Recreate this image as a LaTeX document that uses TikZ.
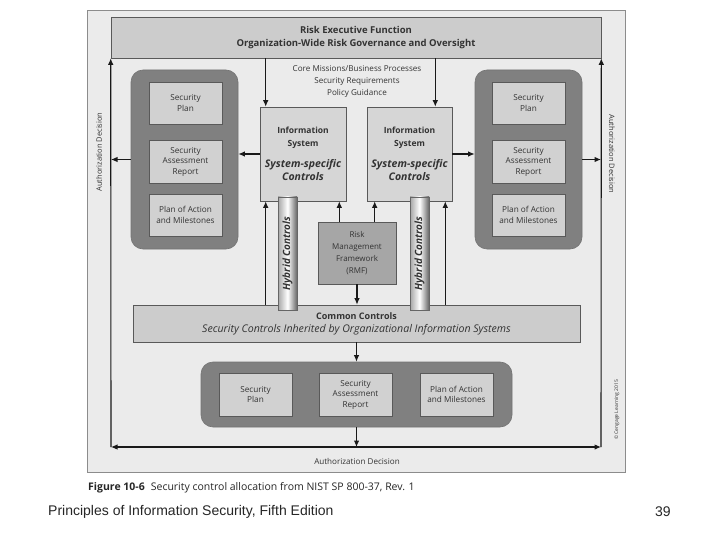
\documentclass[tikz,border=0pt]{standalone}
\usepackage{fontspec}
\setmainfont{Open Sans}
\newfontfamily\footfont{Liberation Sans}
\newcommand\syscfont{\fontsize{10.5}{12.5}\selectfont\bfseries\itshape}
\usetikzlibrary{arrows.meta}
\begin{document}
\begin{tikzpicture}[x=1pt,y=-1pt,
  box/.style={draw=black!65, fill=black!18, line width=0.6pt, align=center, inner sep=0pt,
    font=\fontsize{8.2}{10.5}\selectfont, text=black!80},
  grp/.style={draw=black!55, fill=black!50, rounded corners=12pt, line width=0.6pt, inner sep=0pt},
  hyb/.style={draw=black!60, line width=0.5pt, left color=black!35, right color=black!60, middle color=white,
    shading angle=90, inner sep=0pt, minimum width=19pt, minimum height=113pt},
  hybtext/.style={rotate=90, font=\fontsize{10}{11}\selectfont\bfseries\itshape, text=black!80},
  arr/.style={-{Latex[length=6.5pt,width=5.5pt]}, line width=1.1pt, black!90},
  lbl/.style={font=\fontsize{7.5}{9}\selectfont, text=black!80, inner sep=0pt}]
\useasboundingbox (0,0) rectangle (720,540);
\fill[white] (0,0) rectangle (720,540);
\node[draw=black!45, fill=black!8, line width=0.5pt, minimum width=538pt, minimum height=462pt, inner sep=0pt] (bg) at (356,241) {};

% top box
\node[box, minimum width=490pt, minimum height=41pt, font=\fontsize{9.5}{13.5}\selectfont\bfseries, fill=black!20] (top) at (356,37.5)
  {Risk Executive Function\\Organization-Wide Risk Governance and Oversight};

% groups left/right
\node[grp, minimum width=107pt, minimum height=179pt] (lgrp) at (184.5,159.5) {};
\node[grp, minimum width=107pt, minimum height=179pt] (rgrp) at (528.5,159.5) {};
\node[box, minimum width=73pt, minimum height=42pt] (lsp) at (185.5,103) {Security\\Plan};
\node[box, minimum width=73pt, minimum height=43pt] (lsar) at (185.5,161.5) {Security\\Assessment\\Report};
\node[box, minimum width=73pt, minimum height=42pt] (lpoa) at (185.5,215) {Plan of Action\\and Milestones};
\node[box, minimum width=73pt, minimum height=42pt] (rsp) at (528.5,103) {Security\\Plan};
\node[box, minimum width=73pt, minimum height=43pt] (rsar) at (528.5,161.5) {Security\\Assessment\\Report};
\node[box, minimum width=73pt, minimum height=42pt] (rpoa) at (528.5,215) {Plan of Action\\and Milestones};

% information systems
\node[box, minimum width=86pt, minimum height=94pt, fill=black!16, font=\fontsize{8.5}{12.5}\selectfont] (lis) at (303,154)
  {\textbf{Information}\\\textbf{System}\\[9pt]{\syscfont System-specific}\\{\syscfont Controls}};
\node[box, minimum width=85pt, minimum height=94pt, fill=black!16, font=\fontsize{8.5}{12.5}\selectfont] (ris) at (409.5,154)
  {\textbf{Information}\\\textbf{System}\\[9pt]{\syscfont System-specific}\\{\syscfont Controls}};

% RMF
\node[box, minimum width=78pt, minimum height=62pt, fill=black!35, font=\fontsize{8}{12}\selectfont] (rmf) at (357,253) {Risk\\Management\\Framework\\(RMF)};

% common controls
\node[box, minimum width=447pt, minimum height=37pt, fill=black!20, font=\fontsize{9}{13}\selectfont] (cc) at (356.5,323.5)
  {\textbf{Common Controls}\\{\fontsize{10.6}{13}\selectfont\itshape Security Controls Inherited by Organizational Information Systems}};

% hybrid controls
\node[hyb] (lhc) at (287.5,253.5) {};
\node[hybtext] (lhct) at (lhc.center) {Hybrid Controls};
\node[hyb] (rhc) at (419.5,253.5) {};
\node[hybtext] (rhct) at (rhc.center) {Hybrid Controls};

% bottom group
\node[grp, minimum width=311pt, minimum height=65pt] (bgrp) at (356.5,394.5) {};
\node[box, minimum width=73pt, minimum height=43pt] (bsp) at (255.5,394.5) {Security\\Plan};
\node[box, minimum width=73pt, minimum height=43pt] (bsar) at (355.5,394.5) {Security\\Assessment\\Report};
\node[box, minimum width=73pt, minimum height=43pt] (bpoa) at (456.5,394.5) {Plan of Action\\and Milestones};

% labels
\node[lbl, align=center, font=\fontsize{8.1}{12}\selectfont] (core) at (357,82) {Core Missions/Business Processes\\Security Requirements\\Policy Guidance};
\node[lbl, rotate=90] (adl) at (99,152) {Authorization Decision};
\node[lbl, rotate=-90] (adr) at (612,154) {Authorization Decision};
\node[lbl, font=\fontsize{8.1}{9}\selectfont] (adb) at (357,461) {Authorization Decision};
\node[lbl, rotate=90, font=\fontsize{5}{6}\selectfont] (copy) at (617,410) {\textcopyright{} Cengage Learning 2015};

% coordinates of the frame loop
\coordinate (bl) at (111,447);
\coordinate (br) at (601,447);
\coordinate (bm) at (356.5,447);

% arrows
\draw[arr] ([xshift=6pt]lis.north west |- top.south) -- ([xshift=6pt]lis.north west);
\draw[arr] ([xshift=-17pt]ris.north east |- top.south) -- ([xshift=-17pt]ris.north east);
\draw[arr] (lis.west) -- (lis.west -| lgrp.east);
\draw[arr] (ris.east) -- (ris.east -| rgrp.west);
\draw[arr] (lgrp.west) -- (lgrp.west -| bl);
\draw[arr] (rgrp.east) -- (rgrp.east -| br);
\draw[arr] ([xshift=6pt]lis.south west |- cc.north) -- ([xshift=6pt]lis.south west);
\draw[arr] ([xshift=-7pt]lis.south east |- rmf.north) -- ([xshift=-7pt]lis.south east);
\draw[arr] ([xshift=8pt]ris.south west |- rmf.north) -- ([xshift=8pt]ris.south west);
\draw[arr] ([xshift=-7pt]ris.south east |- cc.north) -- ([xshift=-7pt]ris.south east);
\draw[arr] (rmf.south) -- (rmf.south |- cc.north);
\draw[arr] (cc.south) -- (cc.south |- bgrp.north);
\draw[arr] (bgrp.south) -- (bm);
\draw[arr] (bm) -- (bl);
\draw[arr] (bm) -- (br);
\draw[arr] (bl) -- (top.south west);
\draw[arr] (br) -- (top.south east);

% caption and footer
\node[anchor=west, inner sep=0pt, font=\fontsize{10.5}{12}\selectfont, text=black!85] (cap) at (88,488)
  {\textbf{Figure 10-6}\hspace{6pt}Security control allocation from NIST SP 800-37, Rev. 1};
\node[anchor=west, inner sep=0pt, font=\footfont\fontsize{14}{16}\selectfont, text=black!85] (foot) at (48,512)
  {Principles of Information Security, Fifth Edition};
\node[anchor=west, inner sep=0pt, font=\footfont\fontsize{14}{16}\selectfont, text=black!85] (page) at (655,512) {39};
\end{tikzpicture}
\end{document}
